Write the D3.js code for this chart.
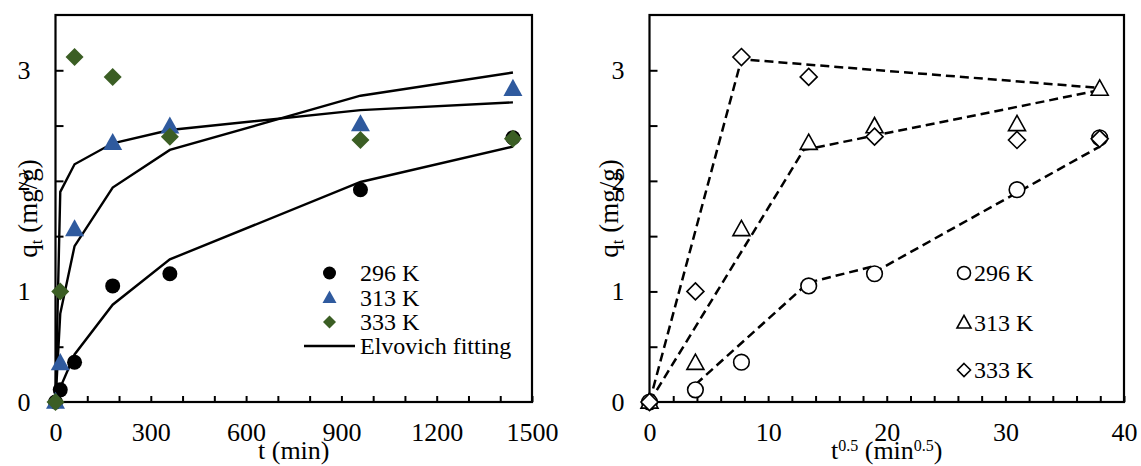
<!DOCTYPE html>
<html>
<head>
<meta charset="utf-8">
<script src="https://cdn.jsdelivr.net/npm/d3@7/dist/d3.min.js"></script>
<style>
  html, body { margin: 0; padding: 0; background: #fff; }
  svg { display: block; }
  text { font-family: "Liberation Serif", "Times New Roman", serif; fill: #000; }
</style>
</head>
<body>
<svg id="chart" width="1141" height="466"></svg>
<script>
// Sampling times (min) and their square roots
const times = [0, 15, 60, 180, 360, 960, 1440];
const sqrtTimes = [0, 3.87, 7.75, 13.42, 18.97, 30.98, 37.95];

// Measured uptake q_t (mg/g)
const q296 = [0, 0.11, 0.36, 1.05, 1.16, 1.92, 2.39];
const q313 = [0, 0.35, 1.56, 2.34, 2.49, 2.51, 2.83];
const q333 = [0, 1.00, 3.12, 2.94, 2.40, 2.37, 2.38];

// Elovich model curves at the same times
const fit296 = [0, 0.13, 0.43, 0.88, 1.29, 1.99, 2.31];
const fit313 = [0, 0.80, 1.41, 1.94, 2.28, 2.77, 2.98];
const fit333 = [0, 1.90, 2.15, 2.34, 2.46, 2.64, 2.71];

// Intraparticle diffusion segments [t^0.5, q_t]
const diff296 = [
  [[3.9, 0.16], [13.4, 1.08]],
  [[13.4, 1.08], [19.0, 1.23]],
  [[18.9, 1.17], [37.95, 2.31]]
];
const diff313 = [[[0, 0], [13.0, 2.28], [37.95, 2.82]]];
const diff333 = [[[0, 0], [7.75, 3.10], [37.95, 2.84]]];

// Axis ticks
const yTicks = [0, 0.5, 1, 1.5, 2, 2.5, 3];
const yLabels = [0, 1, 2, 3];
const tTicks = d3.range(0, 1501, 100);
const tLabels = [0, 300, 600, 900, 1200, 1500];
const sTicks = d3.range(0, 41, 2);
const sLabels = [0, 10, 20, 30, 40];

const seriesNames = ["296 K", "313 K", "333 K"];
const fitName = "Elvovich fitting";

const svg = d3.select("#chart");
const TOP = 15, BOTTOM = 402;
const y = d3.scaleLinear().domain([0, 3.5]).range([BOTTOM, TOP]);
const xL = d3.scaleLinear().domain([0, 1500]).range([55.5, 532]);
const xR = d3.scaleLinear().domain([0, 40]).range([649.5, 1124]);

const blue = "#2F5A9E", green = "#3B5E24";

function frame(g, x, xTicks, xLabels) {
  const [x0, x1] = x.range();
  // y ticks (inward)
  g.append("g").attr("transform", `translate(${x0},0)`)
    .call(d3.axisRight(y).tickValues(yTicks).tickSize(8).tickFormat(""))
    .call(a => a.select(".domain").remove())
    .selectAll("line").attr("stroke", "#000").attr("stroke-width", 2);
  // x ticks (inward)
  g.append("g").attr("transform", `translate(0,${BOTTOM})`)
    .call(d3.axisTop(x).tickValues(xTicks).tickSize(6).tickFormat(""))
    .call(a => a.select(".domain").remove())
    .selectAll("line").attr("stroke", "#000").attr("stroke-width", 2);
  // labels
  g.append("g").attr("transform", `translate(${x0 - 25},0)`)
    .call(d3.axisLeft(y).tickValues(yLabels).tickSize(0).tickPadding(0).tickFormat(d3.format("d")))
    .call(a => a.select(".domain").remove())
    .selectAll("text").attr("font-size", 26).attr("font-family", "Liberation Serif").attr("fill", "#000");
  g.append("g").attr("transform", `translate(0,${BOTTOM + 21})`)
    .call(d3.axisBottom(x).tickValues(xLabels).tickSize(0).tickPadding(0).tickFormat(d3.format("d")))
    .call(a => a.select(".domain").remove())
    .selectAll("text").attr("font-size", 26).attr("font-family", "Liberation Serif").attr("fill", "#000");
  // box
  g.append("rect").attr("x", x0).attr("y", TOP).attr("width", x1 - x0).attr("height", BOTTOM - TOP)
    .attr("fill", "none").attr("stroke", "#000").attr("stroke-width", 2.2);
}

function yTitle(g, cx) {
  const t = g.append("text").attr("transform", `translate(${cx},${(TOP + BOTTOM) / 2}) rotate(-90)`)
    .attr("text-anchor", "middle").attr("dy", "0.35em").attr("font-size", 27);
  t.append("tspan").text("q");
  t.append("tspan").attr("font-size", 17).attr("dy", "5").text("t");
  t.append("tspan").attr("dy", "-5").text(" (mg/g)");
}

const diamond = (s) => `M0,${-s}L${s},0L0,${s}L${-s},0Z`;
function tri(w) { const h = w * 0.9; return `M0,${-h * 0.6}L${w / 2},${h * 0.4}L${-w / 2},${h * 0.4}Z`; }

// ---------- Left panel: q_t vs t with Elovich fits ----------
const gl = svg.append("g");
frame(gl, xL, tTicks, tLabels);
yTitle(gl, 28);
gl.append("text").attr("x", (55.5 + 532) / 2).attr("y", 459).attr("text-anchor", "middle")
  .attr("font-size", 26).text("t (min)");

const line = d3.line().x((d, i) => xL(times[i])).y(d => y(d));
[fit296, fit313, fit333].forEach(f => {
  gl.append("path").attr("d", line(f)).attr("fill", "none").attr("stroke", "#000").attr("stroke-width", 2.4);
});

gl.selectAll("circle.p296").data(q296).join("circle")
  .attr("cx", (d, i) => xL(times[i])).attr("cy", d => y(d)).attr("r", 7.5).attr("fill", "#000");
gl.selectAll("path.p313").data(q313).join("path").attr("class", "p313")
  .attr("transform", (d, i) => `translate(${xL(times[i])},${y(d)})`).attr("d", tri(19)).attr("fill", blue);
gl.selectAll("path.p333").data(q333).join("path").attr("class", "p333")
  .attr("transform", (d, i) => `translate(${xL(times[i])},${y(d)})`).attr("d", diamond(9)).attr("fill", green);

// legend
const lg = gl.append("g");
const legRowsL = [273, 298, 322, 346];
lg.append("circle").attr("cx", 329.5).attr("cy", legRowsL[0]).attr("r", 6.5).attr("fill", "#000");
lg.append("path").attr("transform", `translate(329.5,${legRowsL[1]})`).attr("d", tri(14)).attr("fill", blue);
lg.append("path").attr("transform", `translate(329.5,${legRowsL[2]})`).attr("d", diamond(6.5)).attr("fill", green);
lg.append("line").attr("x1", 304).attr("x2", 355).attr("y1", legRowsL[3]).attr("y2", legRowsL[3])
  .attr("stroke", "#000").attr("stroke-width", 2.4);
seriesNames.concat([fitName]).forEach((n, i) => {
  lg.append("text").attr("x", 360).attr("y", legRowsL[i]).attr("dy", "0.35em").attr("font-size", 24).text(n);
});

// ---------- Right panel: intraparticle diffusion ----------
const gr = svg.append("g");
frame(gr, xR, sTicks, sLabels);
yTitle(gr, 609);
const xt = gr.append("text").attr("x", (649.5 + 1124) / 2).attr("y", 459).attr("text-anchor", "middle")
  .attr("font-size", 26);
xt.append("tspan").text("t");
xt.append("tspan").attr("font-size", 16).attr("dy", "-8").text("0.5");
xt.append("tspan").attr("dy", "8").text(" (min");
xt.append("tspan").attr("font-size", 16).attr("dy", "-8").text("0.5");
xt.append("tspan").attr("dy", "8").text(")");

const lineR = d3.line().x(d => xR(d[0])).y(d => y(d[1]));
[diff296, diff313, diff333].forEach(segs => segs.forEach(s => {
  gr.append("path").attr("d", lineR(s)).attr("fill", "none").attr("stroke", "#000")
    .attr("stroke-width", 2.5).attr("stroke-dasharray", "9,5");
}));

const hollow = sel => sel.attr("fill", "#fff").attr("stroke", "#000").attr("stroke-width", 1.6);
gr.selectAll("circle.h296").data(q296).join("circle")
  .attr("cx", (d, i) => xR(sqrtTimes[i])).attr("cy", d => y(d)).attr("r", 7.8).call(hollow);
gr.selectAll("path.h313").data(q313).join("path").attr("class", "h313")
  .attr("transform", (d, i) => `translate(${xR(sqrtTimes[i])},${y(d)})`).attr("d", tri(17)).call(hollow);
gr.selectAll("path.h333").data(q333).join("path").attr("class", "h333")
  .attr("transform", (d, i) => `translate(${xR(sqrtTimes[i])},${y(d)})`).attr("d", diamond(8.5)).call(hollow);

const rg = gr.append("g");
const legRowsR = [273, 323, 370];
rg.append("circle").attr("cx", 964).attr("cy", legRowsR[0]).attr("r", 6.5).call(hollow);
rg.append("path").attr("transform", `translate(964,${legRowsR[1]})`).attr("d", tri(14)).call(hollow);
rg.append("path").attr("transform", `translate(964,${legRowsR[2]})`).attr("d", diamond(6.5)).call(hollow);
seriesNames.forEach((n, i) => {
  rg.append("text").attr("x", 974).attr("y", legRowsR[i]).attr("dy", "0.35em").attr("font-size", 24).text(n);
});
</script>
</body>
</html>
